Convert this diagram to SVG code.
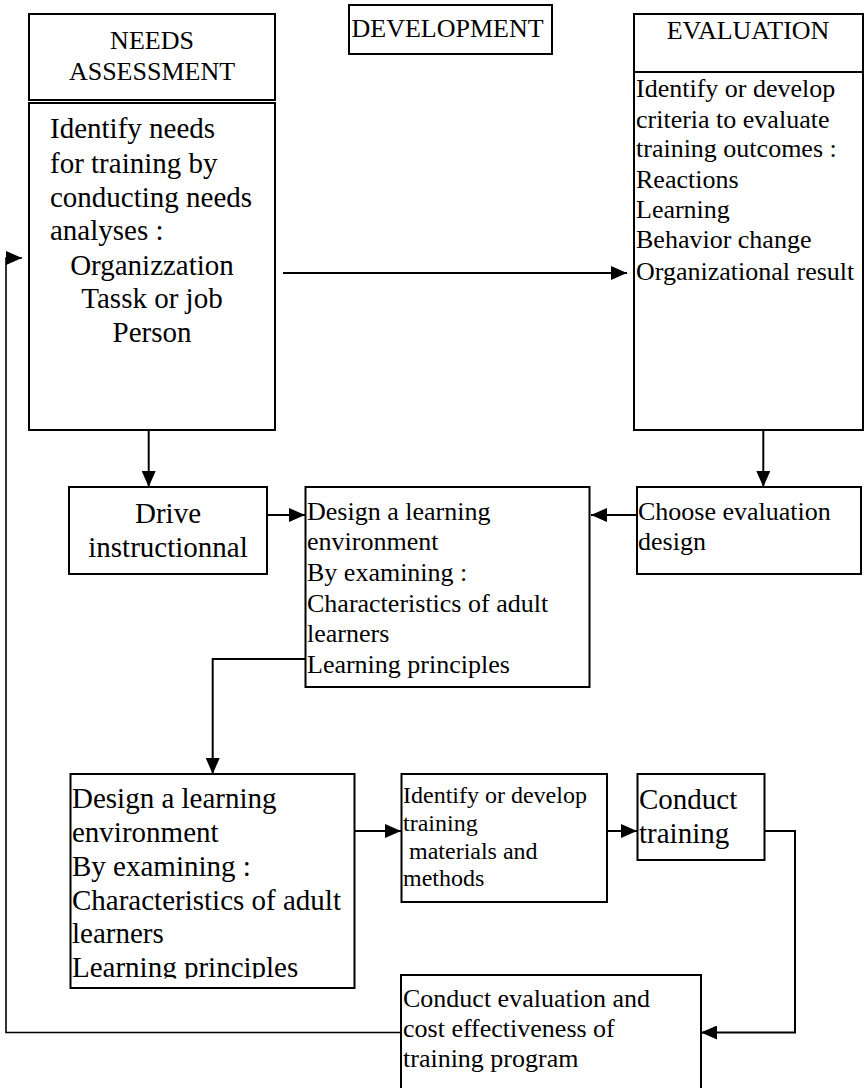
<svg xmlns="http://www.w3.org/2000/svg" width="868" height="1088" viewBox="0 0 868 1088">
<style>
.box{fill:#fff;stroke:#000;stroke-width:2}
.t{font-family:"Liberation Serif","Times New Roman",serif;fill:#000}
.s29{font-size:29px}
.s26{font-size:26px}
.s24{font-size:24px}
.c{text-anchor:middle}
.ln{fill:none;stroke:#000;stroke-width:2}
.fb{fill:none;stroke:#000;stroke-width:1.6}
</style>
<defs>
<marker id="ah" markerUnits="userSpaceOnUse" markerWidth="16" markerHeight="14" viewBox="0 0 16 14" refX="16" refY="7" orient="auto">
<path d="M0,0 L16,7 L0,14 z" fill="#000"/>
</marker>
<clipPath id="clipLL"><rect x="70" y="774" width="285" height="204.5"/></clipPath>
</defs>
<rect width="868" height="1088" fill="#fff"/>

<g id="connectors">
<path class="ln" d="M283,273 H627" marker-end="url(#ah)"/>
<path class="ln" d="M148.7,430 V487" marker-end="url(#ah)"/>
<path class="ln" d="M763.3,430 V487" marker-end="url(#ah)"/>
<path class="ln" d="M260,515 H305" marker-end="url(#ah)"/>
<path class="ln" d="M637,515 H591" marker-end="url(#ah)"/>
<path class="ln" d="M305,659 H212.7 V774" marker-end="url(#ah)"/>
<path class="ln" d="M354,831 H401" marker-end="url(#ah)"/>
<path class="ln" d="M607,831 H637" marker-end="url(#ah)"/>
<path class="ln" d="M764,831 H795 V1032.5 H701" marker-end="url(#ah)"/>
<path class="fb" d="M401,1032.5 H6 V258 H22" marker-end="url(#ah)"/>
</g>

<g id="needs-assessment">
<rect class="box" x="29" y="14" width="246" height="86"/>
<text class="t s26 c" x="152" y="49">NEEDS</text>
<text class="t s26 c" x="152" y="80">ASSESSMENT</text>
</g>

<g id="needs-analysis">
<rect class="box" x="29" y="103" width="246" height="327"/>
<text class="t s29" x="50" y="138">Identify needs</text>
<text class="t s29" x="50" y="173">for training by</text>
<text class="t s29" x="50" y="207">conducting needs</text>
<text class="t s29" x="50" y="240">analyses :</text>
<text class="t s29 c" x="152" y="275">Organizzation</text>
<text class="t s29 c" x="152" y="308">Tassk or job</text>
<text class="t s29 c" x="152" y="342">Person</text>
</g>

<g id="development">
<rect class="box" x="349" y="5" width="203" height="49"/>
<text class="t s26" x="351.5" y="37">DEVELOPMENT</text>
</g>

<g id="evaluation">
<rect class="box" x="634" y="14" width="229" height="58"/>
<text class="t s26 c" x="748" y="39">EVALUATION</text>
</g>

<g id="evaluation-criteria">
<rect class="box" x="634" y="72" width="229" height="358"/>
<text class="t s26" x="636" y="97">Identify or develop</text>
<text class="t s26" x="636" y="128">criteria to evaluate</text>
<text class="t s26" x="636" y="157">training outcomes :</text>
<text class="t s26" x="636" y="188">Reactions</text>
<text class="t s26" x="636" y="218">Learning</text>
<text class="t s26" x="636" y="248">Behavior change</text>
<text class="t s26" x="636" y="280">Organizational result</text>
</g>

<g id="drive-instructional">
<rect class="box" x="69" y="487" width="198" height="87"/>
<text class="t s29 c" x="168" y="523">Drive</text>
<text class="t s29 c" x="168" y="557">instructionnal</text>
</g>

<g id="design-environment-1">
<rect class="box" x="305.5" y="487" width="284" height="200"/>
<text class="t s26" x="307" y="520">Design a learning</text>
<text class="t s26" x="307" y="550">environment</text>
<text class="t s26" x="307" y="581">By examining :</text>
<text class="t s26" x="307" y="612">Characteristics of adult</text>
<text class="t s26" x="307" y="642">learners</text>
<text class="t s26" x="307" y="673">Learning principles</text>
</g>

<g id="choose-evaluation-design">
<rect class="box" x="637" y="487" width="224" height="87"/>
<text class="t s26" x="638" y="520">Choose evaluation</text>
<text class="t s26" x="638" y="550">design</text>
</g>

<g id="design-environment-2">
<rect class="box" x="70.5" y="774" width="284" height="214"/>
<g clip-path="url(#clipLL)">
<text class="t s29" x="72" y="808">Design a learning</text>
<text class="t s29" x="72" y="842">environment</text>
<text class="t s29" x="72" y="876">By examining :</text>
<text class="t s29" x="72" y="910">Characteristics of adult</text>
<text class="t s29" x="72" y="943">learners</text>
<text class="t s29" x="72" y="977">Learning principles</text>
</g>
</g>

<g id="training-materials">
<rect class="box" x="401.5" y="774" width="205.5" height="128"/>
<text class="t s24" x="403" y="803">Identify or develop</text>
<text class="t s24" x="403" y="831">training</text>
<text class="t s24" x="409" y="859">materials and</text>
<text class="t s24" x="403" y="886">methods</text>
</g>

<g id="conduct-training">
<rect class="box" x="637.5" y="774" width="127" height="86"/>
<text class="t s29" x="639" y="809">Conduct</text>
<text class="t s29" x="639" y="843">training</text>
</g>

<g id="conduct-evaluation">
<rect class="box" x="401" y="975" width="300" height="125"/>
<text class="t s26" x="403" y="1007">Conduct evaluation and</text>
<text class="t s26" x="403" y="1037">cost effectiveness of</text>
<text class="t s26" x="403" y="1067">training program</text>
</g>
</svg>
